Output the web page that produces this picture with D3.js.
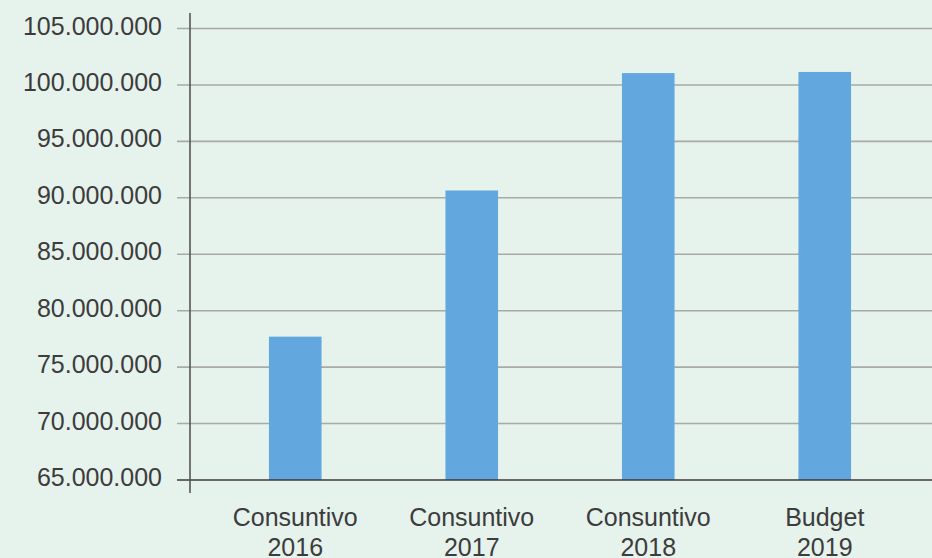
<!DOCTYPE html>
<html><head><meta charset="utf-8">
<script src="https://cdn.jsdelivr.net/npm/d3@7"></script>
<style>
html,body{margin:0;padding:0;background:#e6f2ec;}
svg{display:block;}
text{font-family:"Liberation Sans",Arial,sans-serif;fill:#3c3c3c;}
</style></head>
<body>
<script>
const categories = [["Consuntivo","2016"],["Consuntivo","2017"],["Consuntivo","2018"],["Budget","2019"]];
const values = [77700000, 90650000, 101050000, 101150000];
const yTicks = [65000000,70000000,75000000,80000000,85000000,90000000,95000000,100000000,105000000];

const W = 932, H = 558;
const svg = d3.select("body").append("svg").attr("width", W).attr("height", H);
svg.append("rect").attr("width", W).attr("height", H).attr("fill", "#e6f2ec");

const y = d3.scaleLinear().domain([65000000, 105000000]).range([480, 28.5]);
const x = d3.scaleBand().domain(categories.map((d,i)=>i)).range([207, 913]).padding(0);
const barW = x.bandwidth() * 0.298;
const fmt = v => d3.format(",")(v).replace(/,/g, ".");

// gridlines
svg.append("g").selectAll("line").data(yTicks.filter(t=>t!==65000000)).join("line")
  .attr("x1", 177).attr("x2", W)
  .attr("y1", d=>y(d)).attr("y2", d=>y(d))
  .attr("stroke", "#a7aaa8").attr("stroke-width", 1.6);

// bars
svg.append("g").selectAll("rect").data(values).join("rect")
  .attr("x", (d,i)=>x(i) + x.bandwidth()/2 - barW/2)
  .attr("width", barW)
  .attr("y", d=>y(d))
  .attr("height", d=>y(65000000)-y(d))
  .attr("fill", "#62a8de");

// baseline
svg.append("line").attr("x1", 177).attr("x2", W)
  .attr("y1", y(65000000)).attr("y2", y(65000000))
  .attr("stroke", "#3a3a3a").attr("stroke-width", 1.5);

// y axis line
svg.append("line").attr("x1", 190).attr("x2", 190)
  .attr("y1", 13).attr("y2", 493)
  .attr("stroke", "#555", ).attr("stroke-width", 1.6);

// y tick labels
svg.append("g").selectAll("text").data(yTicks).join("text")
  .attr("x", 162).attr("y", d=>y(d) + 6)
  .attr("text-anchor", "end")
  .attr("font-size", 25)
  .text(d=>fmt(d));

// x labels
const xl = svg.append("g").selectAll("text").data(categories).join("text")
  .attr("text-anchor", "middle")
  .attr("font-size", 25);
xl.each(function(d,i){
  const t = d3.select(this);
  const cx = x(i) + x.bandwidth()/2;
  t.append("tspan").attr("x", cx).attr("y", 526).text(d[0]);
  t.append("tspan").attr("x", cx).attr("y", 556).text(d[1]);
});
</script>
</body></html>
